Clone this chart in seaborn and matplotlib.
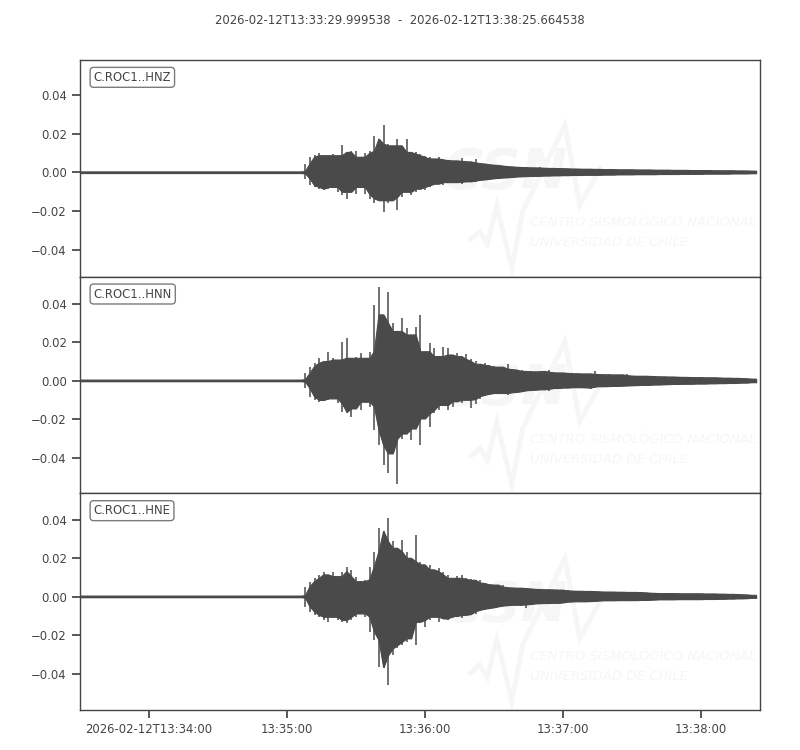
import numpy as np
import pandas as pd
import matplotlib
matplotlib.use("Agg")
import matplotlib.pyplot as plt
from matplotlib.ticker import MultipleLocator
import seaborn as sns

# record window
start_time = np.datetime64("2026-02-12T13:33:29.999538")
end_time = np.datetime64("2026-02-12T13:38:25.664538")
title = "2026-02-12T13:33:29.999538  -  2026-02-12T13:38:25.664538"
channels = ["C.ROC1..HNZ", "C.ROC1..HNN", "C.ROC1..HNE"]

xtick_times = ["2026-02-12T13:34:00", "2026-02-12T13:35:00", "2026-02-12T13:36:00",
               "2026-02-12T13:37:00", "2026-02-12T13:38:00"]
xtick_labels = ["2026-02-12T13:34:00", "13:35:00", "13:36:00", "13:37:00", "13:38:00"]

# peak amplitudes (x 1e-3) per 2 s window, first window 96 s after start
window_start = 96.0
window_len = 2.0
pre_event_noise = [0.3, 0.3, 0.3]

hnz_upper = [0.5, 4.4, 7.9, 9.0, 10.0, 8.7, 9.2, 9.6, 8.7, 14.4, 10.4, 11.0, 11.3, 7.9, 9.9, 11.0, 19.0,
             17.3, 24.6, 14.7, 13.8, 17.3, 13.8, 17.3, 10.4, 10.4, 9.6, 8.7, 7.9, 7.0, 7.9, 7.0, 6.5, 6.2,
             6.0, 7.4, 5.8, 5.5, 7.0, 5.0, 4.6, 4.4, 4.0, 3.8, 3.6, 3.3, 3.0, 2.9, 2.7,
             2.6, 2.5, 2.4, 2.6, 2.3, 2.2, 2.1, 2.3, 2.0, 2.0, 1.9, 1.8, 1.9, 1.7, 1.7, 1.8, 1.6, 1.6,
             1.5, 1.6, 1.5, 1.4, 1.5, 1.4, 1.4, 1.3, 1.4, 1.3, 1.3, 1.2, 1.3, 1.2, 1.2, 1.1, 1.2, 1.1,
             1.1, 1.0, 1.1, 1.0, 1.0, 1.0, 0.9, 1.0, 0.9, 0.9, 0.9, 0.8, 0.9, 0.8, 0.7]
hnz_lower = [-0.5, -3.2, -6.7, -7.5, -8.4, -9.2, -8.4, -7.5, -10.0, -11.8, -13.5, -10.0, -10.9, -7.5,
             -11.3, -13.5, -16.0, -14.4, -20.3, -16.0, -14.4, -19.5, -12.6, -10.0, -11.8, -10.0, -8.4,
             -9.2, -7.5, -6.7, -5.8, -6.7, -5.0, -5.0,
             -5.2, -5.8, -4.8, -4.6, -5.0, -4.2, -3.8, -3.6, -3.3, -3.0, -2.8, -2.6, -2.5, -2.3, -2.1,
             -2.0, -1.9, -1.8, -2.0, -1.7, -1.6, -1.6, -1.5, -1.5, -1.4, -1.4, -1.3, -1.4, -1.3, -1.2,
             -1.3, -1.2, -1.2, -1.1, -1.2, -1.1, -1.0, -1.1, -1.0, -1.0, -0.9, -1.0, -0.9, -0.9, -0.9,
             -0.8, -0.9, -0.8, -0.8, -0.8, -0.7, -0.8, -0.7, -0.7, -0.7, -0.6, -0.7, -0.6, -0.6, -0.6,
             -0.6, -0.5, -0.6, -0.5, -0.5, -0.4]

hnn_upper = [0.5, 3.8, 7.3, 9.0, 11.6, 9.9, 15.0, 11.6, 10.7, 20.3, 22.0, 11.6, 12.5, 14.2, 11.6, 15.0,
             39.3, 48.8, 34.1, 46.2, 29.8, 25.5, 32.4, 27.2, 23.7, 28.0, 34.1, 15.0, 19.4, 16.8, 12.5,
             17.7, 16.8, 13.3,
             14.4, 12.5, 14.0, 11.0, 10.0, 8.5, 9.2, 8.0, 7.6, 7.0,
             7.2, 8.8, 6.0, 5.7, 5.5, 4.8, 5.0, 4.6, 4.8, 5.0,
             5.4, 4.4, 4.0, 4.2, 4.0, 3.8, 3.6, 3.7, 3.5, 3.6,
             5.2, 3.3, 3.1, 3.2, 3.0, 3.0, 3.1, 3.5, 2.6, 2.4,
             2.3, 2.3, 2.4, 2.2, 2.1, 2.0, 2.1, 1.9, 2.0, 1.8,
             1.7, 1.8, 1.6, 1.7, 1.6, 1.5, 1.6, 1.5, 1.4, 1.3,
             1.4, 1.2, 1.2, 1.1, 1.0, 0.8]
hnn_lower = [-0.5, -4.0, -8.3, -10.0, -10.9, -10.0, -10.0, -9.2, -11.8, -16.1, -17.0, -18.7, -14.4,
             -15.2, -10.9, -13.5, -25.6, -33.4, -43.8, -48.1, -37.7, -53.3, -30.0, -27.4, -30.8, -24.8,
             -33.4, -19.6, -23.9, -17.0, -15.2, -12.6, -15.2, -13.5,
             -10.7, -11.5, -9.9, -14.2, -12.0, -9.5, -8.0, -7.3, -6.8, -6.4,
             -6.6, -7.3, -6.4, -6.0, -5.8, -5.5, -5.0, -4.8, -4.7, -4.5,
             -5.5, -4.2, -3.8, -4.0, -3.6, -3.8, -3.4, -3.5, -3.6, -4.3,
             -4.0, -3.0, -2.9, -3.3, -2.8, -2.7, -2.8, -2.6, -2.5, -2.4,
             -2.3, -2.2, -2.6, -2.1, -2.0, -2.0, -1.9, -1.8, -1.7, -1.8,
             -1.6, -1.7, -1.6, -1.5, -1.6, -1.5, -1.4, -1.5, -1.3, -1.3,
             -1.2, -1.2, -1.1, -1.0, -1.0, -0.8]

hne_upper = [0.5, 5.2, 7.8, 9.5, 11.3, 13.0, 11.3, 13.0, 10.4, 13.0, 15.6, 13.9, 10.4, 7.8, 8.7, 15.6,
             23.4, 35.5, 33.8, 40.7, 28.6, 25.1, 29.4, 23.4, 19.9, 32.0, 18.2, 16.5, 16.5, 13.9, 14.7,
             13.0, 11.3, 9.5,
             10.5, 11.0, 9.5, 9.0, 8.5, 8.8, 7.1, 6.8, 6.2, 6.0,
             6.2, 5.0, 4.6, 4.5, 4.4, 4.5, 4.2, 4.0, 3.8, 3.7,
             3.6, 3.6, 3.5, 3.4, 3.6, 3.0, 2.9, 2.8, 2.9, 2.7,
             2.8, 2.6, 2.5, 2.4, 2.5, 2.4, 2.3, 2.4, 2.2, 2.3,
             2.2, 2.1, 2.0, 1.8, 1.7, 1.6, 1.7, 1.6, 1.7, 1.5,
             1.6, 1.5, 1.6, 1.5, 1.5, 1.4, 1.5, 1.4, 1.3, 1.3,
             1.2, 1.2, 1.1, 1.0, 0.9, 0.7]
hne_lower = [-0.5, -5.2, -7.8, -9.5, -10.4, -12.1, -13.0, -10.4, -12.1, -13.0, -13.9, -12.1, -10.4, -8.7,
             -10.4, -18.2, -22.5, -36.4, -37.2, -45.9, -30.3, -26.8, -25.1, -23.4, -21.6, -25.1, -13.0,
             -15.6, -12.1, -10.4, -13.0, -11.3, -12.1, -11.3,
             -10.0, -11.0, -9.5, -9.4, -9.0, -7.5, -6.8, -6.2, -5.9, -5.5,
             -5.0, -4.6, -4.4, -4.2, -4.3, -5.9, -4.0, -3.8, -3.5, -3.4,
             -3.3, -3.4, -3.2, -3.3, -3.0, -2.6, -2.5, -2.4, -2.5, -2.4,
             -2.3, -2.2, -2.0, -1.9, -2.0, -1.9, -1.8, -1.9, -1.8, -1.9,
             -1.8, -1.7, -1.8, -1.6, -1.5, -1.4, -1.5, -1.4, -1.4, -1.3,
             -1.4, -1.3, -1.3, -1.4, -1.3, -1.2, -1.3, -1.2, -1.1, -1.1,
             -1.0, -1.0, -0.9, -0.9, -0.8, -0.6]

uppers = [hnz_upper, hnn_upper, hne_upper]
lowers = [hnz_lower, hnn_lower, hne_lower]

wave_color = "#4a4a4a"
text_color = "#444444"
logo_color = "#f6f6f6"

sns.set_theme(style="ticks", rc={
    "axes.edgecolor": text_color, "text.color": text_color,
    "xtick.color": text_color, "ytick.color": text_color,
    "axes.labelcolor": text_color, "font.size": 8.33,
    "xtick.labelsize": 8.33, "ytick.labelsize": 8.33,
    "axes.linewidth": 1.0,
})
plt.rcParams["font.family"] = ["DejaVu Sans"]


def trace_frame(upper, lower, noise):
    sec = window_start + window_len * np.arange(len(upper))
    sec = np.concatenate([[0.0], sec])
    us = np.round(sec * 1e6).astype("int64").astype("timedelta64[us]")
    df = pd.DataFrame({
        "time": start_time + us,
        "upper": np.concatenate([[noise], upper]) * 1e-3,
        "lower": np.concatenate([[-noise], lower]) * 1e-3,
    })
    # dense part of the trace = level reached in the neighbouring windows too,
    # single window peaks stick out of it as spikes
    df["body_up"] = df["upper"].rolling(3, center=True, min_periods=1).min()
    df["body_lo"] = df["lower"].rolling(3, center=True, min_periods=1).max()
    return df


frames = [trace_frame(u, l, n) for u, l, n in zip(uppers, lowers, pre_event_noise)]

# same vertical scale for all traces, centred on each trace
max_range = max((f["upper"].max() - f["lower"].min()) for f in frames)
half = 1.1 * max_range / 2

# CSN watermark outline (axes fractions)
logo_wave_x = [0.574, 0.588, 0.599, 0.613, 0.635, 0.651, 0.713, 0.735, 0.765]
logo_wave_y = [0.171, 0.207, 0.152, 0.327, 0.041, 0.300, 0.700, 0.332, 0.502]

fig = plt.figure(figsize=(8, 7.5), dpi=100)
axes = fig.subplots(3, 1, sharex=True)
fig.subplots_adjust(left=0.1, right=0.95, top=0.92, bottom=0.0533, hspace=0)

for ax, df, label in zip(axes, frames, channels):
    # watermark
    ax.plot(logo_wave_x, logo_wave_y, transform=ax.transAxes, color=logo_color,
            lw=3.5, solid_joinstyle="miter", zorder=0)
    ax.text(0.625, 0.48, "CSN", transform=ax.transAxes, ha="center", va="center",
            fontsize=40, fontweight="bold", fontstyle="italic", color=logo_color, zorder=0)
    ax.text(0.662, 0.249, "CENTRO SISMOLÓGICO NACIONAL", transform=ax.transAxes,
            ha="left", va="center", fontsize=9.5, fontstyle="italic", color=logo_color, zorder=0)
    ax.text(0.662, 0.157, "UNIVERSIDAD DE CHILE", transform=ax.transAxes,
            ha="left", va="center", fontsize=9.5, fontstyle="italic", color=logo_color, zorder=0)

    ax.fill_between(df["time"].values, df["body_lo"].values, df["body_up"].values,
                    color=wave_color, lw=0.8, zorder=2)
    ax.vlines(df["time"].values, df["lower"].values, df["upper"].values,
              color=wave_color, lw=1.1, zorder=3)
    sns.lineplot(data=df, x="time", y="body_up", ax=ax, color=wave_color, lw=0.8, zorder=3)
    sns.lineplot(data=df, x="time", y="body_lo", ax=ax, color=wave_color, lw=0.8, zorder=3)

    mid = (df["upper"].max() + df["lower"].min()) / 2
    ax.set_ylim(mid - half, mid + half)
    ax.yaxis.set_major_locator(MultipleLocator(0.02))
    ax.set(xlabel="", ylabel="")
    ax.text(0.02, 0.95, label, transform=ax.transAxes, ha="left", va="top", fontsize=8.33,
            bbox=dict(boxstyle="round", fc="w", ec="#5a5a5a", alpha=0.8), zorder=5)
    for side in ["top", "right", "left", "bottom"]:
        ax.spines[side].set_visible(True)

axes[0].set_xlim(start_time, end_time)
for ax in axes[:-1]:
    ax.tick_params(axis="x", bottom=False, labelbottom=False)
axes[-1].set_xticks(np.array(xtick_times, dtype="datetime64[us]"))
axes[-1].set_xticklabels(xtick_labels)

fig.suptitle(title, y=1 - 20 / 750, va="center", fontsize=8.33)
fig.savefig("out.png", dpi=100)
